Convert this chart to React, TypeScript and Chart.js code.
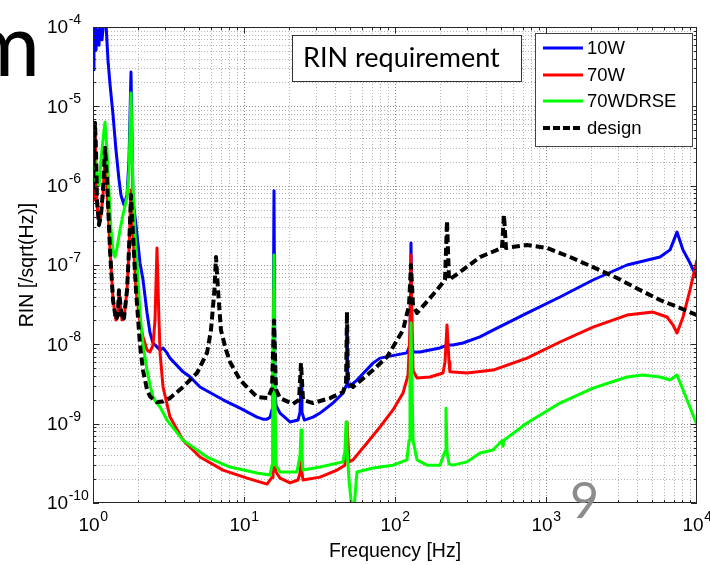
import React, { useEffect, useRef } from 'react';
import { Chart, registerables } from 'chart.js';

Chart.register(...registerables);

// ---------- data (frequency [Hz], RIN [/sqrt(Hz)]) ----------
const rin10W: number[][] = [
  [1, 2.9e-5], [1.015, 6.9e-5], [1.031, 1.2e-4], [1.047, 5.1e-5], [1.063, 9.2e-5], [1.096, 5.9e-5],
  [1.113, 1.2e-4], [1.147, 6.9e-5], [1.183, 1.3e-4], [1.219, 1.1e-4], [1.257, 3.8e-5], [1.296, 1.9e-5],
  [1.357, 7.8e-6], [1.42, 2.8e-6], [1.486, 1.2e-6], [1.532, 7.6e-7], [1.605, 5.7e-7], [1.68, 7.6e-7],
  [1.731, 2.1e-6], [1.785, 2.7e-5], [1.841, 6.6e-7], [1.926, 3.2e-7], [2.048, 1.06e-7], [2.144, 6.5e-8],
  [2.279, 2.5e-8], [2.385, 1.4e-8], [2.497, 1.04e-8], [2.653, 9.3e-9], [2.78, 8.5e-9], [2.91, 9.0e-9],
  [3.09, 7.8e-9], [3.236, 6.7e-9], [3.945, 4.5e-9], [4.389, 3.9e-9], [5.11, 2.9e-9], [7.26, 2.0e-9],
  [9.41, 1.57e-9], [12.2, 1.21e-9], [13.36, 1.14e-9], [14.2, 1.14e-9], [14.87, 1.2e-9], [15.33, 1.5e-9],
  [15.56, 2.8e-9], [15.8, 8.6e-7], [16.04, 2.8e-9], [16.29, 1.7e-9], [17.32, 1.36e-9], [20.17, 1.05e-9],
  [22.79, 1.11e-9], [23.5, 1.4e-9], [23.85, 3.5e-9], [24.2, 1.4e-9], [25.1, 1.11e-9], [28.64, 1.21e-9],
  [31.87, 1.36e-9], [38.85, 1.82e-9], [45.24, 2.43e-9], [47.4, 3.0e-9], [48.09, 1.5e-8], [48.8, 3.0e-9],
  [49.58, 2.9e-9], [56.0, 3.55e-9], [71.5, 5.8e-9], [79.6, 6.7e-9], [92.7, 7.1e-9], [120, 7.8e-9],
  [125.7, 9.8e-9], [127.6, 1.89e-7], [129.6, 9.8e-9], [131.6, 8.0e-9], [146, 8.0e-9], [198.6, 9.0e-9],
  [221, 9.8e-9], [242, 9.8e-9], [282, 1.04e-8], [365, 1.24e-8], [446, 1.51e-8], [749, 2.48e-8],
  [1238, 3.95e-8], [2048, 6.47e-8], [3439, 1.0e-7], [5689, 1.26e-7], [6627, 1.55e-7], [7372, 2.6e-7],
  [8076, 1.55e-7], [8987, 1.06e-7], [10000, 6.85e-8],
];

const rin70W: number[][] = [
  [1, 6.6e-7], [1.015, 1.35e-6], [1.031, 5e-6], [1.047, 1.8e-6], [1.063, 5.7e-7], [1.096, 3.2e-7],
  [1.13, 4.3e-7], [1.165, 7.6e-7], [1.201, 2.4e-6], [1.238, 1.0e-6], [1.296, 1.55e-7], [1.357, 3.6e-8],
  [1.42, 2.03e-8], [1.46, 2.34e-8], [1.486, 4.6e-8], [1.509, 3.4e-8], [1.556, 2.03e-8], [1.605, 2.15e-8],
  [1.68, 4.8e-8], [1.731, 1.55e-7], [1.785, 8.8e-7], [1.841, 2.4e-7], [1.926, 4.8e-8], [2.048, 1.9e-8],
  [2.144, 1.24e-8], [2.279, 8.5e-9], [2.385, 8.0e-9], [2.497, 9.8e-9], [2.574, 2.0e-8], [2.653, 1.64e-7],
  [2.735, 2.0e-8], [2.78, 7.8e-9], [2.909, 2.9e-9], [3.236, 1.21e-9], [3.945, 6.2e-10], [5.11, 3.8e-10],
  [7.26, 2.6e-10], [10.47, 2.06e-10], [14.2, 1.73e-10], [15.33, 2.1e-10], [15.56, 6e-10], [15.8, 4.8e-8],
  [16.04, 6e-10], [16.29, 2.46e-10], [17.32, 2.06e-10], [20.17, 1.79e-10], [22.79, 1.95e-10], [23.5, 2.4e-10],
  [23.85, 3.3e-10], [24.2, 2.4e-10], [24.6, 1.95e-10], [31.87, 2.12e-10], [41.3, 2.6e-10], [46.6, 3.0e-10],
  [48.09, 1.05e-9], [49.58, 3.3e-10], [52.71, 3.5e-10], [65.25, 5.7e-10], [79.6, 9.1e-10], [97, 1.49e-9],
  [113, 2.43e-9], [122, 4.1e-9], [125.7, 1.5e-8], [127.6, 1.34e-7], [129.6, 1.5e-8], [131.6, 4.7e-9],
  [139.9, 3.76e-9], [170.5, 3.87e-9], [207.9, 4.35e-9], [214.4, 6e-9], [221, 1.75e-8], [227.9, 6e-9],
  [231, 4.5e-9], [300, 4.35e-9], [446, 4.74e-9], [749, 6.7e-9], [1238, 1.07e-8], [2048, 1.65e-8],
  [3439, 2.34e-8], [5112, 2.55e-8], [6329, 2.21e-8], [6937, 1.75e-8], [7372, 1.39e-8], [7719, 1.75e-8],
  [8076, 2.2e-8], [8987, 4.84e-8], [10000, 1.16e-7],
];

const rin70WDRSE: number[][] = [
  [1, 1.0e-6], [1.031, 2.1e-6], [1.063, 1.35e-6], [1.096, 1.0e-6], [1.13, 2.1e-6], [1.165, 3.8e-6],
  [1.201, 6.3e-6], [1.238, 2.8e-6], [1.276, 8.8e-7], [1.316, 2.76e-7], [1.357, 1.55e-7], [1.398, 1.26e-7],
  [1.442, 1.64e-7], [1.509, 2.76e-7], [1.58, 4.3e-7], [1.68, 7.2e-7], [1.731, 1.5e-6], [1.785, 1.47e-5],
  [1.841, 8.8e-7], [1.9, 2.4e-7], [1.956, 1.06e-7], [2.048, 2.48e-8], [2.144, 9.8e-9], [2.279, 4.74e-9],
  [2.385, 3.07e-9], [2.497, 2.17e-9], [2.61, 1.87e-9], [2.78, 1.62e-9], [3.09, 1.11e-9], [3.945, 6.2e-10],
  [5.69, 3.8e-10], [8.08, 2.84e-10], [12.2, 2.39e-10], [14.87, 2.25e-10], [15.33, 3.0e-10], [15.56, 2e-9],
  [15.8, 1.34e-7], [16.04, 2e-9], [16.29, 3.0e-10], [17.32, 2.46e-10], [22.4, 2.46e-10], [23.5, 4.0e-10],
  [23.85, 8.3e-10], [24.2, 4.0e-10], [24.6, 2.6e-10], [31.9, 2.84e-10], [45.2, 3.3e-10], [46.6, 4.5e-10],
  [47.4, 1.05e-9], [48.09, 5e-10], [49.58, 1.95e-10], [51.1, 1.1e-10], [52.71, 6e-11], [54.4, 1.25e-10],
  [56, 2.46e-10], [71.5, 2.76e-10], [97, 3.0e-10], [120, 3.5e-10], [123.8, 6.2e-10], [125.7, 3.5e-9],
  [127.6, 1.86e-8], [129.6, 3.5e-9], [131.6, 6.2e-10], [139.9, 3.5e-10], [162.9, 3.0e-10], [198.6, 3.0e-10],
  [214.4, 4.5e-10], [217.6, 1.57e-9], [221, 4.5e-10], [227.9, 3.1e-10], [242, 3.0e-10], [300, 3.3e-10],
  [365.5, 4.27e-10], [446, 4.66e-10], [511, 6.1e-10], [519, 5.2e-10], [527, 6.2e-10], [749, 1.02e-9],
  [1238, 1.82e-9], [2048, 2.81e-9], [3439, 3.87e-9], [4390, 4.1e-9], [5689, 3.87e-9], [6627, 3.55e-9],
  [7372, 4.1e-9], [8586, 2.0e-9], [10000, 9.6e-10],
];

const rinDesign: number[][] = [
  [1, 8.8e-7], [1.015, 2.8e-6], [1.031, 6.2e-6], [1.047, 2.8e-6], [1.063, 6.6e-7], [1.096, 3.2e-7],
  [1.13, 4.3e-7], [1.165, 8.8e-7], [1.201, 3.0e-6], [1.238, 1.18e-6], [1.296, 1.55e-7], [1.357, 3.6e-8],
  [1.42, 2.03e-8], [1.46, 2.34e-8], [1.486, 4.8e-8], [1.509, 3.6e-8], [1.556, 2.03e-8], [1.605, 2.15e-8],
  [1.68, 4.8e-8], [1.731, 1.55e-7], [1.785, 7.6e-7], [1.841, 2.4e-7], [1.926, 4.8e-8], [2.048, 9.8e-9],
  [2.144, 4.7e-9], [2.279, 2.7e-9], [2.385, 2.2e-9], [2.653, 1.87e-9], [2.91, 1.9e-9], [3.236, 2.1e-9],
  [3.945, 2.9e-9], [4.884, 4.35e-9], [5.69, 7.8e-9], [6.04, 1.5e-8], [6.37, 4.8e-8], [6.526, 1.26e-7],
  [6.73, 4.8e-8], [7.04, 1.5e-8], [7.6, 8.5e-9], [8.08, 6.0e-9], [9.41, 3.55e-9], [12.2, 2.17e-9],
  [14.4, 2.1e-9], [15.33, 2.8e-9], [15.8, 2.0e-8], [16.29, 2.7e-9], [17.32, 2.1e-9], [21.11, 1.77e-9],
  [23.14, 2.0e-9], [23.85, 5.8e-9], [24.6, 2.0e-9], [28.64, 1.82e-9], [37.11, 2.1e-9], [45.24, 2.5e-9],
  [47.4, 3.3e-9], [48.09, 2.55e-8], [48.8, 3.3e-9], [52.71, 2.9e-9], [71.5, 4.74e-9], [88.5, 6.9e-9],
  [113, 1.51e-8], [123.8, 3.1e-8], [127.6, 1.0e-7], [131.6, 3.1e-8], [139.9, 2.48e-8], [189.7, 4.84e-8],
  [214.4, 6.5e-8], [221, 3.58e-7], [227.9, 6.5e-8], [269.5, 8.15e-8], [365.5, 1.26e-7], [511, 1.64e-7],
  [527, 4.27e-7], [543, 1.64e-7], [749, 1.79e-7], [1015, 1.64e-7], [1442, 1.26e-7], [2048, 9.4e-8],
  [2952, 6.85e-8], [4193, 4.84e-8], [5689, 3.62e-8], [7719, 2.87e-8], [10000, 2.34e-8],
];

const seriesNames = ['10W', '70W', '70WDRSE', 'design'];
const seriesColors = ['#0000ff', '#ff0000', '#00ff00', '#000000'];
const xTickExponents = [0, 1, 2, 3, 4];
const yTickExponents = [-10, -9, -8, -7, -6, -5, -4];
const xTitle = 'Frequency [Hz]';
const yTitle = 'RIN [/sqrt(Hz)]';
const boxNote = 'RIN requirement';
const pageNumber = '9';
const slideFragment = 'm';

const W = 710;
const H = 565;
const SANS = '"Liberation Sans", Arial, Helvetica, sans-serif';

const decorPlugin = {
  id: 'matlabDecor',
  beforeDatasetsDraw(chart: any) {
    const { ctx, chartArea: a, scales } = chart;
    const xs = scales.x;
    const ys = scales.y;
    ctx.save();
    ctx.lineWidth = 1;
    ctx.setLineDash([1, 2]);
    for (let e = 0; e < 4; e++) {
      for (let m = 1; m <= 9; m++) {
        const v = m * Math.pow(10, e);
        if (v <= 1) continue;
        const px = Math.round(xs.getPixelForValue(v)) + 0.5;
        ctx.strokeStyle = m === 1 ? '#8a8a8a' : '#b4b4b4';
        ctx.beginPath();
        ctx.moveTo(px, a.top);
        ctx.lineTo(px, a.bottom);
        ctx.stroke();
      }
    }
    for (let e = -10; e < -4; e++) {
      for (let m = 1; m <= 9; m++) {
        const v = m * Math.pow(10, e);
        if (v <= 1e-10 * 1.0001) continue;
        const py = Math.round(ys.getPixelForValue(v)) + 0.5;
        ctx.strokeStyle = m === 1 ? '#8a8a8a' : '#b4b4b4';
        ctx.beginPath();
        ctx.moveTo(a.left, py);
        ctx.lineTo(a.right, py);
        ctx.stroke();
      }
    }
    ctx.restore();
  },
  afterDatasetsDraw(chart: any) {
    const { ctx, chartArea: a, scales } = chart;
    const xs = scales.x;
    const ys = scales.y;
    ctx.save();
    ctx.setLineDash([]);
    ctx.strokeStyle = '#262626';
    ctx.lineWidth = 1;
    ctx.strokeRect(Math.round(a.left) + 0.5, Math.round(a.top) + 0.5,
      Math.round(a.right - a.left) - 1, Math.round(a.bottom - a.top) - 1);
    ctx.beginPath();
    for (let e = 0; e < 4; e++) {
      for (let m = 1; m <= 9; m++) {
        const v = m * Math.pow(10, e);
        const px = Math.round(xs.getPixelForValue(v)) + 0.5;
        const len = m === 1 ? 6 : 3;
        ctx.moveTo(px, a.bottom); ctx.lineTo(px, a.bottom - len);
        ctx.moveTo(px, a.top); ctx.lineTo(px, a.top + len);
      }
    }
    for (let e = -10; e < -4; e++) {
      for (let m = 1; m <= 9; m++) {
        const v = m * Math.pow(10, e);
        const py = Math.round(ys.getPixelForValue(v)) + 0.5;
        const len = m === 1 ? 6 : 3;
        ctx.moveTo(a.left, py); ctx.lineTo(a.left + len, py);
        ctx.moveTo(a.right, py); ctx.lineTo(a.right - len, py);
      }
    }
    ctx.stroke();

    ctx.fillStyle = '#000';
    const baseFont = `19px ${SANS}`;
    const expFont = `14px ${SANS}`;
    xTickExponents.forEach((e) => {
      const px = xs.getPixelForValue(Math.pow(10, e));
      ctx.font = baseFont;
      const w1 = ctx.measureText('10').width;
      ctx.font = expFont;
      const w2 = ctx.measureText(String(e)).width;
      const start = px - (w1 + w2) / 2;
      ctx.font = baseFont;
      ctx.textAlign = 'left';
      ctx.textBaseline = 'middle';
      ctx.fillText('10', start, 526);
      ctx.font = expFont;
      ctx.textBaseline = 'top';
      ctx.fillText(String(e), start + w1 + 0.5, 510);
    });
    yTickExponents.forEach((e) => {
      const py = ys.getPixelForValue(Math.pow(10, e));
      ctx.font = baseFont;
      const w1 = ctx.measureText('10').width;
      ctx.textAlign = 'left';
      ctx.textBaseline = 'middle';
      ctx.fillText('10', 47, py + 1);
      ctx.font = expFont;
      ctx.textBaseline = 'top';
      ctx.fillText(String(e), 47 + w1 + 0.5, py - 14);
    });

    ctx.font = `19.5px ${SANS}`;
    ctx.textAlign = 'center';
    ctx.textBaseline = 'middle';
    ctx.fillText(xTitle, (a.left + a.right) / 2, 552);
    ctx.save();
    ctx.translate(28, (a.top + a.bottom) / 2);
    ctx.rotate(-Math.PI / 2);
    ctx.fillText(yTitle, 0, 0);
    ctx.restore();

    ctx.fillStyle = '#fff';
    ctx.fillRect(292, 35, 229, 46);
    ctx.strokeStyle = '#333';
    ctx.lineWidth = 1;
    ctx.strokeRect(292.5, 35.5, 229, 46);
    ctx.fillStyle = '#000';
    ctx.font = `27px Lato, "Open Sans", sans-serif`;
    ctx.textAlign = 'left';
    ctx.textBaseline = 'middle';
    ctx.fillText(boxNote, 303, 58);

    ctx.fillStyle = '#fff';
    ctx.fillRect(535, 33, 157, 113);
    ctx.strokeStyle = '#444';
    ctx.strokeRect(535.5, 33.5, 157, 113);
    const rowsY = [48, 75, 101, 128];
    seriesNames.forEach((name, i) => {
      const yy = rowsY[i];
      ctx.strokeStyle = seriesColors[i];
      ctx.lineWidth = i === 3 ? 4 : 3;
      ctx.setLineDash(i === 3 ? [7, 3] : []);
      ctx.beginPath();
      ctx.moveTo(543, yy);
      ctx.lineTo(583, yy);
      ctx.stroke();
      ctx.setLineDash([]);
      ctx.fillStyle = '#000';
      ctx.font = `18.5px ${SANS}`;
      ctx.textAlign = 'left';
      ctx.textBaseline = 'middle';
      ctx.fillText(name, 587, yy + 1);
    });

    ctx.fillStyle = '#8c8c8c';
    ctx.font = `50px Lato, "Open Sans", sans-serif`;
    ctx.textAlign = 'left';
    ctx.textBaseline = 'alphabetic';
    ctx.fillText(pageNumber, 570, 518);
    ctx.fillStyle = '#000';
    ctx.font = `87px Lato, "Open Sans", sans-serif`;
    ctx.textAlign = 'right';
    ctx.fillText(slideFragment, 40, 76);
    ctx.restore();
  },
};

function toPoints(rows: number[][]) {
  return rows.map((r) => ({ x: r[0], y: r[1] }));
}

export default function App() {
  const canvasRef = useRef<HTMLCanvasElement | null>(null);

  useEffect(() => {
    if (!canvasRef.current) return;
    const allSeries = [rin10W, rin70W, rin70WDRSE, rinDesign];
    const chart = new Chart(canvasRef.current, {
      type: 'line',
      data: {
        datasets: allSeries.map((rows, i) => ({
          label: seriesNames[i],
          data: toPoints(rows),
          borderColor: seriesColors[i],
          backgroundColor: seriesColors[i],
          borderWidth: i === 3 ? 4 : 3,
          borderDash: i === 3 ? [8, 4] : [],
          borderJoinStyle: 'round',
          pointRadius: 0,
          tension: 0,
          fill: false,
          clip: 0,
          order: 3 - i,
        })),
      },
      options: {
        responsive: false,
        animation: false,
        devicePixelRatio: 1,
        parsing: false,
        layout: { padding: { left: 93, top: 27, right: W - 697, bottom: H - 503 } },
        plugins: { legend: { display: false }, tooltip: { enabled: false } },
        scales: {
          x: { type: 'logarithmic', min: 1, max: 10000, display: false },
          y: { type: 'logarithmic', min: 1e-10, max: 1e-4, display: false },
        },
      },
      plugins: [decorPlugin],
    } as any);
    return () => chart.destroy();
  }, []);

  return (
    <div style={{ position: 'fixed', left: 0, top: 0, width: W, height: H, background: '#fff' }}>
      <canvas ref={canvasRef} width={W} height={H} style={{ display: 'block' }} />
    </div>
  );
}
